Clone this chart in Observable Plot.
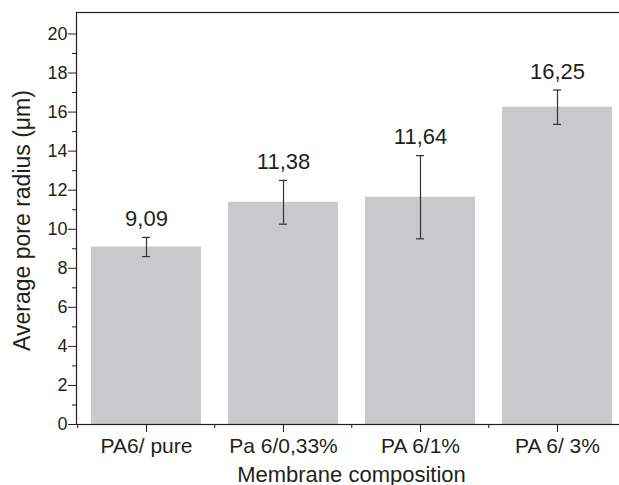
<!DOCTYPE html>
<html><head><meta charset="utf-8">
<script src="https://cdn.jsdelivr.net/npm/d3@7"></script>
<script src="https://cdn.jsdelivr.net/npm/@observablehq/plot@0.6"></script>
<style>html,body{margin:0;padding:0;background:#fff;overflow:hidden}
#chart svg{overflow:hidden;display:block}</style>
</head><body><div id="chart"></div>
<script>
const categories = ["PA6/ pure", "Pa 6/0,33%", "PA 6/1%", "PA 6/ 3%"];
const means = [9.09, 11.38, 11.64, 16.25];
const errors = [0.49, 1.12, 2.13, 0.88];
const yMajorTicks = [0, 2, 4, 6, 8, 10, 12, 14, 16, 18, 20];
const yMinorTicks = [1, 3, 5, 7, 9, 11, 13, 15, 17, 19];
const xTitle = "Membrane composition";
const yTitle = "Average pore radius (\u03bcm)";

const data = categories.map((c, i) => ({
  cat: c, mean: means[i], err: errors[i],
  label: means[i].toFixed(2).replace(".", ",")
}));

const ink = "#231f20";
const chart = Plot.plot({
  width: 619, height: 485,
  marginTop: 12, marginBottom: 61, marginLeft: 76, marginRight: 0,
  style: {fontFamily: "'Liberation Sans', Arial, sans-serif", color: ink, background: "#fff", overflow: "hidden"},
  x: {type: "band", domain: categories, range: [76, 626], paddingInner: 0.2, paddingOuter: 0.1},
  y: {domain: [0, 21.1]},
  marks: [
    Plot.barY(data, {x: "cat", y: "mean", fill: "#c8c9cb"}),
    Plot.ruleX(data, {x: "cat", y1: d => d.mean - d.err, y2: d => d.mean + d.err, stroke: "#333", strokeWidth: 1.2}),
    Plot.tickY(data, {x: "cat", y: d => d.mean + d.err, stroke: "#333", strokeWidth: 1.2, insetLeft: 51, insetRight: 51}),
    Plot.tickY(data, {x: "cat", y: d => d.mean - d.err, stroke: "#333", strokeWidth: 1.2, insetLeft: 51, insetRight: 51}),
    Plot.text(data, {x: "cat", y: d => d.mean + d.err, text: "label", dy: -18.5, fontSize: 22, fill: ink}),
    Plot.frame({stroke: ink, strokeWidth: 1.2, insetRight: -10}),
    Plot.axisY(yMajorTicks, {tickSize: 8, tickPadding: 1, fontSize: 18, label: null, stroke: ink}),
    Plot.axisY(yMinorTicks, {tickSize: 4, tickFormat: () => "", label: null, stroke: ink}),
    Plot.axisX({tickSize: 8, tickPadding: 6, fontSize: 21, label: null, stroke: ink}),
    Plot.ruleX(categories, {x: d => d, y1: 0, y2: 0, dx: -68.75, insetBottom: -4, stroke: ink}),
    Plot.text([xTitle], {frameAnchor: "bottom", lineAnchor: "middle", textAnchor: "middle", dy: 50, dx: 3.5, fontSize: 22, fill: ink}),
    Plot.text([yTitle], {frameAnchor: "left", textAnchor: "middle", lineAnchor: "middle", rotate: -90, dx: -53.5, dy: 2, fontSize: 23, fill: ink})
  ]
});
document.getElementById("chart").appendChild(chart);
</script>
</body></html>
